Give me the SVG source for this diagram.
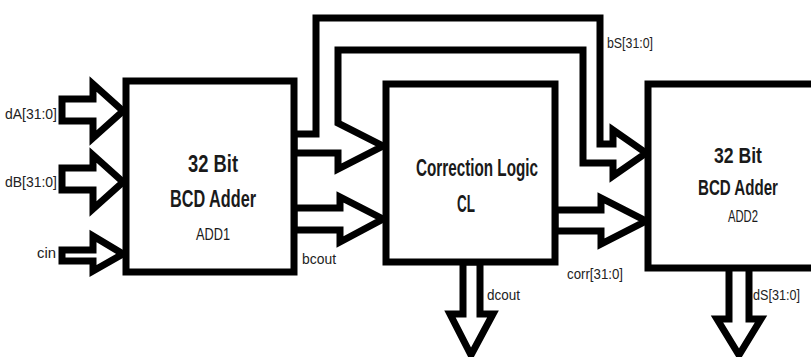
<svg xmlns="http://www.w3.org/2000/svg" width="811" height="357" viewBox="0 0 811 357">
  <style>
    .box { fill: #ffffff; stroke: #000000; stroke-width: 7; stroke-linejoin: miter; }
    .bus { fill: #ffffff; stroke: #000000; stroke-width: 7; stroke-linejoin: miter; stroke-miterlimit: 10; }
    .title { font-family: "Liberation Sans", Arial, sans-serif; font-weight: bold; font-size: 24px; fill: #1a1a1a; text-anchor: middle; }
    .title2 { font-family: "Liberation Sans", Arial, sans-serif; font-weight: bold; font-size: 22px; fill: #1a1a1a; text-anchor: middle; }
    .sub { font-family: "Liberation Sans", Arial, sans-serif; font-size: 17px; fill: #1a1a1a; text-anchor: middle; }
    .lbl { font-family: "Liberation Sans", Arial, sans-serif; font-size: 15px; fill: #222222; }
  </style>

  <rect x="0" y="0" width="811" height="357" fill="#ffffff"/>

  <!-- bus arrows -->
  <g id="connectors">
    <!-- inputs to ADD1 -->
    <polygon class="bus" points="62,99 93,99 93,84 123,111 93,138 93,121 62,121"/>
    <polygon class="bus" points="62,168 93,168 93,155 123,182 93,209 93,190 62,190"/>
    <polygon class="bus" points="62,250 93,250 93,236 123,254 93,271 93,261 62,261"/>
    <!-- ADD1 -> CL (sum) and bS bypass to ADD2 -->
    <polygon class="bus" points="294,134 316,134 316,18 600,18 600,144 613,144 613,130 646,153 613,176 613,163 583,163 583,50 338,50 338,123 383,146 338,169 338,153 294,153"/>
    <!-- bcout: ADD1 -> CL -->
    <polygon class="bus" points="294,208 340,208 340,197 383,219 340,242 340,230 294,230"/>
    <!-- corr: CL -> ADD2 -->
    <polygon class="bus" points="555,210 601,210 601,198 646,221 601,244 601,231 555,231"/>
    <!-- dcout out of CL -->
    <polygon class="bus" points="463,262 463,314 450,314 471,355 493,314 480,314 480,262"/>
    <!-- dS out of ADD2 -->
    <polygon class="bus" points="729,267 729,319 717,319 739,355 761,319 749,319 749,267"/>
  </g>

  <g id="add1">
    <rect class="box" x="126" y="81" width="168" height="191"/>
    <text class="title" x="213" y="172" textLength="50" lengthAdjust="spacingAndGlyphs">32 Bit</text>
    <text class="title" x="213" y="207" textLength="86" lengthAdjust="spacingAndGlyphs">BCD Adder</text>
    <text class="sub" x="213" y="240" textLength="34" lengthAdjust="spacingAndGlyphs">ADD1</text>
  </g>

  <g id="cl">
    <rect class="box" x="386" y="84" width="169" height="178"/>
    <text class="title" x="477" y="176" textLength="122" lengthAdjust="spacingAndGlyphs">Correction Logic</text>
    <text class="title" x="466" y="212" textLength="18" lengthAdjust="spacingAndGlyphs">CL</text>
  </g>

  <g id="add2">
    <rect class="box" x="648" y="84" width="170" height="184"/>
    <text class="title2" x="738" y="163" textLength="48" lengthAdjust="spacingAndGlyphs">32 Bit</text>
    <text class="title2" x="738" y="195" textLength="80" lengthAdjust="spacingAndGlyphs">BCD Adder</text>
    <text class="sub" x="743" y="222" textLength="30" lengthAdjust="spacingAndGlyphs">ADD2</text>
  </g>

  <!-- signal labels -->
  <g id="labels">
    <text class="lbl" x="5" y="119" textLength="52" lengthAdjust="spacingAndGlyphs">dA[31:0]</text>
    <text class="lbl" x="5" y="187" textLength="52" lengthAdjust="spacingAndGlyphs">dB[31:0]</text>
    <text class="lbl" x="37" y="258" textLength="19" lengthAdjust="spacingAndGlyphs">cin</text>
    <text class="lbl" x="302" y="264" textLength="34" lengthAdjust="spacingAndGlyphs">bcout</text>
    <text class="lbl" x="607" y="48" textLength="46" lengthAdjust="spacingAndGlyphs">bS[31:0]</text>
    <text class="lbl" x="567" y="279" textLength="56" lengthAdjust="spacingAndGlyphs">corr[31:0]</text>
    <text class="lbl" x="487" y="300" textLength="33" lengthAdjust="spacingAndGlyphs">dcout</text>
    <text class="lbl" x="753" y="300" textLength="47" lengthAdjust="spacingAndGlyphs">dS[31:0]</text>
  </g>
</svg>
